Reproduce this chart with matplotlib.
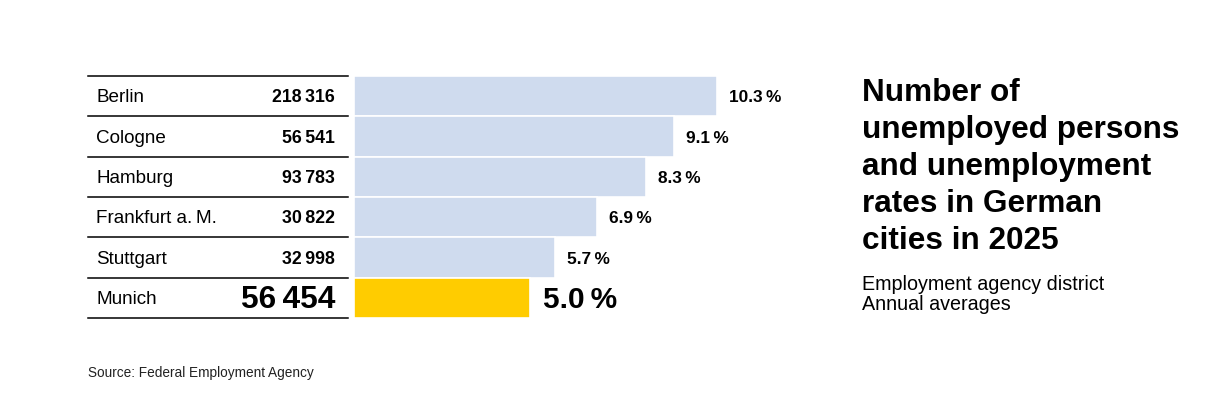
import matplotlib.pyplot as plt

plt.rcParams['font.family'] = ['Liberation Sans', 'DejaVu Sans']

# Data
cities = ["Berlin", "Cologne", "Hamburg", "Frankfurt a.\u2009M.", "Stuttgart", "Munich"]
unemployed = [218316, 56541, 93783, 30822, 32998, 56454]
rates = [10.3, 9.1, 8.3, 6.9, 5.7, 5.0]
highlight = "Munich"

W, H = 1215, 419
fig = plt.figure(figsize=(W / 100, H / 100), dpi=100)

def fmt_num(n):
    return "{:,}".format(n).replace(",", "\u2009")

top, bottom = 76, 318
n = len(cities)

# table on the left
tab = fig.add_axes([88 / W, 1 - bottom / H, (348 - 88) / W, (bottom - top) / H])
tab.set_xlim(0, 1)
tab.set_ylim(n, 0)
tab.axis("off")
for i in range(n + 1):
    tab.plot([0, 1], [i, i], color="black", lw=1.1, clip_on=False)
for i, (c, u) in enumerate(zip(cities, unemployed)):
    tab.text(8 / 260, i + 0.54, c, fontsize=13.6, va="center", ha="left")
    if c == highlight:
        tab.text(247 / 260, i + 0.55, fmt_num(u), fontsize=22.8, fontweight="bold",
                 va="center", ha="right")
    else:
        tab.text(247 / 260, i + 0.54, fmt_num(u), fontsize=12.8, fontweight="bold",
                 va="center", ha="right")

# bars on the right
px_per_unit = 35.2
xmax = 12
ax = fig.add_axes([354 / W, 1 - bottom / H, xmax * px_per_unit / W, (bottom - top) / H])
ax.set_xlim(0, xmax)
ax.set_ylim(n, 0)
ax.axis("off")
colors = ["#ffcc00" if c == highlight else "#cfdbee" for c in cities]
ax.barh([i + 0.5 for i in range(n)], rates, height=1.0, color=colors,
        edgecolor="white", linewidth=1.2)
for i, (c, r) in enumerate(zip(cities, rates)):
    label = "{:.1f}\u2009%".format(r)
    if c == highlight:
        ax.text(r + 13 / px_per_unit, i + 0.55, label, fontsize=21.5, fontweight="bold",
                va="center", ha="left")
    else:
        ax.text(r + 12 / px_per_unit, i + 0.54, label, fontsize=12.4, fontweight="bold",
                va="center", ha="left")

# title block
fig.text(862 / W, 1 - 78 / H, "Number of\nunemployed persons\nand unemployment\nrates in German\ncities in 2025",
         fontsize=22.7, fontweight="bold", va="top", ha="left", linespacing=1.3)
fig.text(862 / W, 1 - 275 / H, "Employment agency district\nAnnual averages",
         fontsize=14.2, va="top", ha="left", linespacing=1.1)

fig.text(88 / W, 1 - 373 / H, "Source: Federal Employment Agency", fontsize=9.8,
         color="#222222", va="center", ha="left")

fig.savefig("out.png", dpi=100, facecolor="white")
